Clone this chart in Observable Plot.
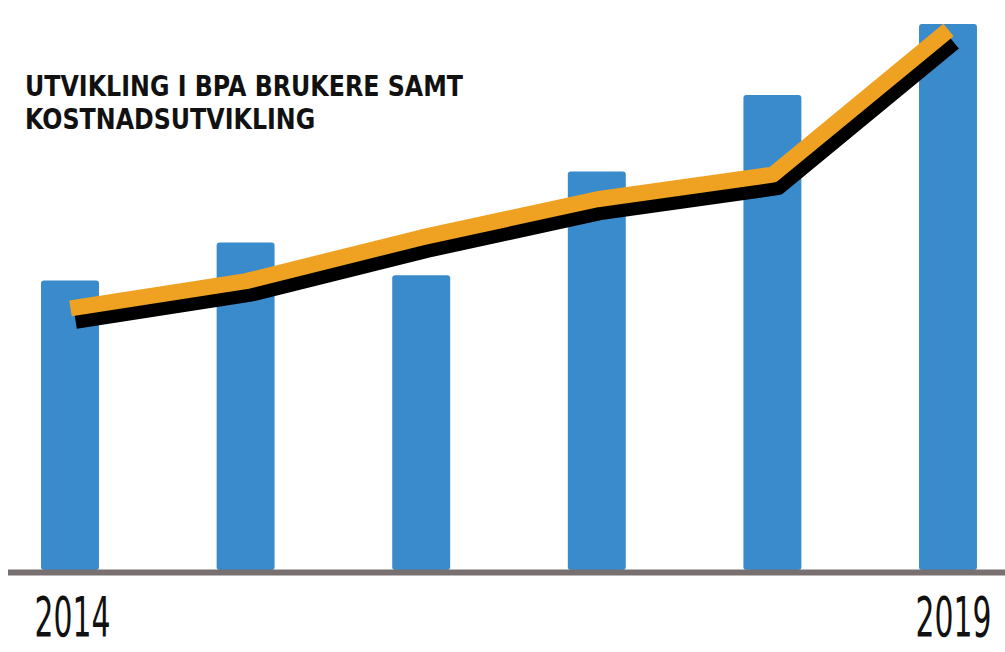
<!DOCTYPE html>
<html>
<head>
<meta charset="utf-8">
<script src="https://cdn.jsdelivr.net/npm/d3@7"></script>
<script src="https://cdn.jsdelivr.net/npm/@observablehq/plot@0.6"></script>
<style>
  html, body { margin: 0; padding: 0; background: #fff; }
  #wrap { position: relative; width: 1005px; height: 652px; overflow: hidden; }
  #title { position: absolute; left: 25px; top: 70px; font-family: "DejaVu Sans", sans-serif; font-weight: bold; font-size: 29px; line-height: 33px; color: #111; white-space: nowrap; transform-origin: 0 0; }
  #title div { display: block; width: max-content; }
</style>
</head>
<body>
<div id="wrap">
  <div id="chart"></div>
  <div id="title"></div>
</div>
<script>
// Data (index values)
const years = [2014, 2015, 2016, 2017, 2018, 2019];
const users = [53, 60, 54, 73, 87, 100];        // blue bars: BPA-brukere
const costs = [48, 53, 61, 68, 72.5, 99];        // orange line: kostnadsutvikling
const tickYears = [2014, 2019];
const titleLines = ["UTVIKLING I BPA BRUKERE SAMT", "KOSTNADSUTVIKLING"];

const barData = years.map((y, i) => ({year: y, value: users[i]}));
const lineData = years.map((y, i) => ({year: y, value: costs[i]}));
const halfBar = 0.165;

const yearMark = (yr, dx) => Plot.text([yr], {x: d => d, y: 0, text: d => String(d), dy: 48, dx, fontSize: 55, fill: "#111", fontFamily: "DejaVu Sans", className: "yearlab"});

const chart = Plot.plot({
  width: 1005,
  height: 652,
  marginLeft: 8,
  marginRight: 0,
  marginTop: 24,
  marginBottom: 82,
  x: {domain: [2014, 2019], range: [70, 948], axis: null},
  y: {domain: [0, 100], axis: null},
  marks: [
    Plot.rectY(barData, {x1: d => d.year - halfBar, x2: d => d.year + halfBar, y: "value", fill: "#3a8bcc", rx: 3}),
    Plot.ruleY([0], {stroke: "#787070", strokeWidth: 6, dy: 2}),
    Plot.line(lineData, {x: "year", y: "value", stroke: "#000", strokeWidth: 17, dx: 5, dy: 12, strokeLinecap: "butt", strokeLinejoin: "round"}),
    Plot.line(lineData, {x: "year", y: "value", stroke: "#efa222", strokeWidth: 16, strokeLinecap: "butt", strokeLinejoin: "round"}),
    yearMark(tickYears[0], 2),
    yearMark(tickYears[1], 5)
  ]
});
document.getElementById("chart").appendChild(chart);

// Narrow the hand-lettered year labels
chart.querySelectorAll(".yearlab text").forEach(t => {
  t.setAttribute("textLength", 76);
  t.setAttribute("lengthAdjust", "spacingAndGlyphs");
});

// Title
const title = document.getElementById("title");
titleLines.forEach(l => { const d = document.createElement("div"); d.textContent = l; title.appendChild(d); });
const w = title.firstChild.getBoundingClientRect().width;
title.style.transform = `scaleX(${438 / w})`;
</script>
</body>
</html>
